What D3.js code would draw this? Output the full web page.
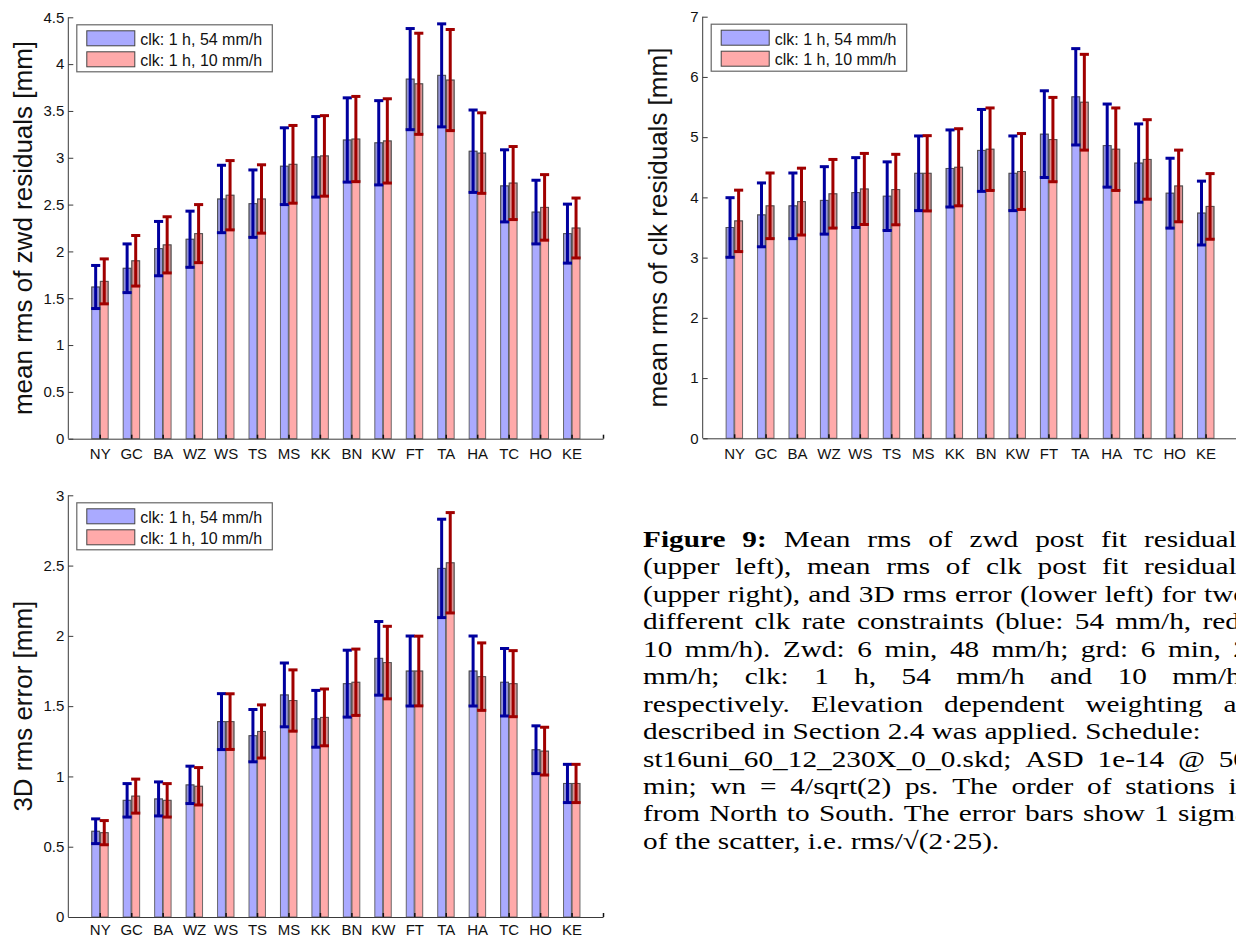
<!DOCTYPE html>
<html>
<head>
<meta charset="utf-8">
<script src="https://cdn.jsdelivr.net/npm/d3@7"></script>
<style>
  html, body { margin: 0; padding: 0; background: #fff; overflow: hidden; }
  svg { display: block; }
</style>
</head>
<body>
<script>
// Stations, ordered from North to South
const stations = ["NY","GC","BA","WZ","WS","TS","MS","KK","BN","KW","FT","TA","HA","TC","HO","KE"];

// Mean rms of zwd post fit residuals [mm] and 1-sigma error bars
const zwd54    = [1.62,1.82,2.03,2.13,2.56,2.51,2.91,3.01,3.19,3.16,3.84,3.88,3.07,2.70,2.42,2.19];
const zwd54Err = [0.23,0.26,0.29,0.30,0.36,0.36,0.41,0.43,0.45,0.45,0.54,0.55,0.44,0.385,0.34,0.315];
const zwd10    = [1.68,1.90,2.07,2.19,2.60,2.56,2.93,3.02,3.20,3.18,3.79,3.83,3.05,2.73,2.47,2.25];
const zwd10Err = [0.24,0.27,0.30,0.31,0.37,0.365,0.415,0.43,0.455,0.45,0.54,0.54,0.43,0.39,0.35,0.32];

// Mean rms of clk post fit residuals [mm]
const clk54    = [3.50,3.71,3.86,3.95,4.08,4.02,4.40,4.48,4.78,4.40,5.05,5.67,4.86,4.57,4.07,3.74];
const clk54Err = [0.495,0.53,0.545,0.56,0.58,0.57,0.62,0.64,0.68,0.62,0.72,0.80,0.69,0.65,0.58,0.53];
const clk10    = [3.61,3.86,3.93,4.06,4.14,4.13,4.40,4.50,4.80,4.43,4.96,5.58,4.80,4.63,4.19,3.85];
const clk10Err = [0.51,0.545,0.555,0.57,0.59,0.585,0.625,0.64,0.685,0.63,0.70,0.795,0.685,0.66,0.595,0.545];

// 3D rms error [mm]
const pos54    = [0.61,0.83,0.84,0.94,1.39,1.29,1.58,1.41,1.66,1.84,1.75,2.48,1.75,1.67,1.19,0.95];
const pos54Err = [0.088,0.119,0.121,0.133,0.199,0.186,0.227,0.202,0.238,0.262,0.249,0.35,0.249,0.24,0.17,0.136];
const pos10    = [0.60,0.86,0.83,0.93,1.39,1.32,1.54,1.42,1.67,1.81,1.75,2.52,1.71,1.66,1.18,0.95];
const pos10Err = [0.086,0.121,0.119,0.133,0.198,0.189,0.218,0.202,0.236,0.258,0.248,0.357,0.24,0.235,0.17,0.136];

// Axis ticks
const zwdTicks = [0,0.5,1,1.5,2,2.5,3,3.5,4,4.5];
const clkTicks = [0,1,2,3,4,5,6,7];
const posTicks = [0,0.5,1,1.5,2,2.5,3];

const seriesNames = ["clk: 1 h, 54 mm/h", "clk: 1 h, 10 mm/h"];

// Figure caption lines (justify = spread words to the full column width)
const captionLines = [
  {text: "Figure 9: Mean rms of zwd post fit residuals", bold: 2, justify: true},
  {text: "(upper left), mean rms of clk post fit residuals", justify: true},
  {text: "(upper right), and 3D rms error (lower left) for two", justify: true},
  {text: "different clk rate constraints (blue: 54 mm/h, red:", justify: true},
  {text: "10 mm/h).  Zwd: 6 min, 48 mm/h; grd: 6 min, 2", justify: true},
  {text: "mm/h; clk: 1 h, 54 mm/h and 10 mm/h,", justify: true},
  {text: "respectively. Elevation dependent weighting as", justify: true},
  {text: "described in Section 2.4 was applied. Schedule:", justify: false},
  {text: "st16uni_60_12_230X_0_0.skd; ASD 1e-14 @ 50", justify: true},
  {text: "min; wn = 4/sqrt(2) ps. The order of stations is", justify: true},
  {text: "from North to South. The error bars show 1 sigma", justify: true},
  {text: "of the scatter, i.e. rms/\u221A(2\u00B725).", justify: false}
];

const W = 1236, H = 938;
const fillColors = ["#aaaaff", "#ffaaaa"];
const errColors  = ["#00009e", "#a00000"];
const axisColor  = "#3a3a3a";
const sansFont   = "'Liberation Sans', Arial, Helvetica, sans-serif";
const serifFont  = "'Liberation Serif', 'Times New Roman', serif";

const svg = d3.select("body").append("svg")
  .attr("width", W).attr("height", H)
  .attr("viewBox", `0 0 ${W} ${H}`);

function drawPanel(cfg) {
  const g = svg.append("g");
  const x = d3.scaleLinear().domain([0, 17]).range([cfg.left, cfg.right]);
  const y = d3.scaleLinear().domain([0, cfg.ymax]).range([cfg.bottom, cfg.top]);

  const series = [
    {mean: cfg.a, err: cfg.aErr, off: [-0.255, -0.005]},
    {mean: cfg.b, err: cfg.bErr, off: [0.018, 0.268]}
  ];

  series.forEach((s, si) => {
    const rows = stations.map((st, i) => ({c: i + 1, m: s.mean[i], e: s.err[i]}));
    // bars
    g.append("g").selectAll("rect").data(rows).join("rect")
      .attr("x", d => x(d.c + s.off[0]))
      .attr("width", d => x(d.c + s.off[1]) - x(d.c + s.off[0]))
      .attr("y", d => y(d.m))
      .attr("height", d => y(0) - y(d.m))
      .attr("fill", fillColors[si])
      .attr("stroke", "#555")
      .attr("stroke-opacity", 0.85)
      .attr("stroke-width", 1);
    // darker band from the lower sigma bound up to the mean
    g.append("g").selectAll("rect").data(rows).join("rect")
      .attr("x", d => x(d.c + s.off[0]))
      .attr("width", d => x(d.c + s.off[1]) - x(d.c + s.off[0]))
      .attr("y", d => y(d.m))
      .attr("height", d => y(d.m - d.e) - y(d.m))
      .attr("fill", "#4a4a4a")
      .attr("fill-opacity", 0.22)
      .attr("stroke", "#444")
      .attr("stroke-opacity", 0.6);
  });

  // error bars
  series.forEach((s, si) => {
    const rows = stations.map((st, i) => ({cx: i + 1 + (s.off[0] + s.off[1]) / 2, m: s.mean[i], e: s.err[i]}));
    const eg = g.append("g").attr("stroke", errColors[si]).attr("stroke-width", 3).attr("fill", "none");
    eg.selectAll("line.v").data(rows).join("line").attr("class", "v")
      .attr("x1", d => x(d.cx)).attr("x2", d => x(d.cx))
      .attr("y1", d => y(d.m - d.e)).attr("y2", d => y(d.m + d.e));
    eg.selectAll("line.t").data(rows).join("line").attr("class", "t")
      .attr("x1", d => x(d.cx - 0.145)).attr("x2", d => x(d.cx + 0.145))
      .attr("y1", d => y(d.m + d.e)).attr("y2", d => y(d.m + d.e));
    eg.selectAll("line.b").data(rows).join("line").attr("class", "b")
      .attr("x1", d => x(d.cx - 0.145)).attr("x2", d => x(d.cx + 0.145))
      .attr("y1", d => y(d.m - d.e)).attr("y2", d => y(d.m - d.e));
  });

  // axes
  const xAxis = d3.axisBottom(x)
    .tickValues(d3.range(1, 18))
    .tickFormat(v => v <= stations.length ? stations[v - 1] : "")
    .tickSize(-4).tickSizeOuter(0).tickPadding(cfg.xPad);
  const gx = g.append("g").attr("transform", `translate(0,${y(0)})`).call(xAxis);
  gx.selectAll(".tick line").attr("stroke", "#111").attr("stroke-width", 1.5);

  const yAxis = d3.axisLeft(y)
    .tickValues(cfg.ticks)
    .tickFormat(d3.format("~g"))
    .tickSize(-5).tickSizeOuter(0).tickPadding(4);
  const gy = g.append("g").attr("transform", `translate(${x(0)},0)`).call(yAxis);
  gy.select(".domain").attr("d", `M0,${y(0)}V${y(cfg.ymax)}`);

  [gx, gy].forEach(ax => {
    ax.select(".domain").attr("stroke", axisColor);
    ax.selectAll(".tick text").attr("font-family", sansFont).attr("font-size", 15).attr("fill", "#111");
  });
  gy.selectAll(".tick line").attr("stroke", axisColor);

  // y-axis title
  const cy = (y(0) + y(cfg.ymax)) / 2;
  g.append("text")
    .attr("transform", `translate(${x(0) - 36},${cy}) rotate(-90)`)
    .attr("text-anchor", "middle")
    .attr("font-family", sansFont).attr("font-size", 26).attr("fill", "#111")
    .text(cfg.ylabel);

  // legend
  const lx = x(0) + 8.5, ly = y(cfg.ymax) + 7.5;
  const lg = g.append("g").attr("transform", `translate(${lx},${ly})`);
  lg.append("rect").attr("width", 195.5).attr("height", 47)
    .attr("fill", "#fff").attr("stroke", "#666").attr("stroke-width", 1.2);
  seriesNames.forEach((name, i) => {
    lg.append("rect").attr("x", 10).attr("y", 6 + i * 21).attr("width", 48).attr("height", 15)
      .attr("fill", fillColors[i]).attr("stroke", "#444");
    lg.append("text").attr("x", 63.5).attr("y", 20.5 + i * 20.5)
      .attr("font-family", sansFont).attr("font-size", 16).attr("fill", "#111")
      .text(name);
  });
}

drawPanel({left: 68.3, right: 603, top: 17.3, bottom: 438.7, ymax: 4.5, ticks: zwdTicks, xPad: 10,
  a: zwd54, aErr: zwd54Err, b: zwd10, bErr: zwd10Err, ylabel: "mean rms of zwd residuals [mm]"});
drawPanel({left: 702.7, right: 1237, top: 16.7, bottom: 438.3, ymax: 7, ticks: clkTicks, xPad: 10,
  a: clk54, aErr: clk54Err, b: clk10, bErr: clk10Err, ylabel: "mean rms of clk residuals [mm]"});
drawPanel({left: 68.3, right: 603, top: 495.3, bottom: 917, ymax: 3, ticks: posTicks, xPad: 7,
  a: pos54, aErr: pos54Err, b: pos10, bErr: pos10Err, ylabel: "3D rms error [mm]"});

// caption: a justified column of Times text, set slightly wide
(function drawCaption() {
  const L = 643, R = 1248, base0 = 547, lineH = 27.45, fs = 24, sx = 1.22;
  const cg = svg.append("g")
    .attr("transform", `translate(${L},0) scale(${sx},1)`)
    .attr("font-family", serifFont).attr("font-size", fs).attr("fill", "#000");
  const probe = cg.append("text").attr("visibility", "hidden");
  const measure = (w, bold) => {
    probe.attr("font-weight", bold ? "bold" : "normal").text(w);
    return probe.node().getComputedTextLength();
  };
  const span = (R - L) / sx;
  const spaceW = measure("a a", false) - measure("aa", false);
  captionLines.forEach((ln, li) => {
    const yb = base0 + li * lineH;
    const words = ln.text.split(/\s+/);
    const nb = ln.bold || 0;
    const widths = words.map((w, i) => measure(w, i < nb));
    const total = d3.sum(widths);
    const gap = ln.justify ? (span - total) / (words.length - 1) : spaceW;
    let cx = 0;
    words.forEach((w, i) => {
      cg.append("text").attr("x", cx).attr("y", yb)
        .attr("font-weight", i < nb ? "bold" : "normal")
        .text(w);
      cx += widths[i] + gap;
    });
  });
  probe.remove();
})();
</script>
</body>
</html>
